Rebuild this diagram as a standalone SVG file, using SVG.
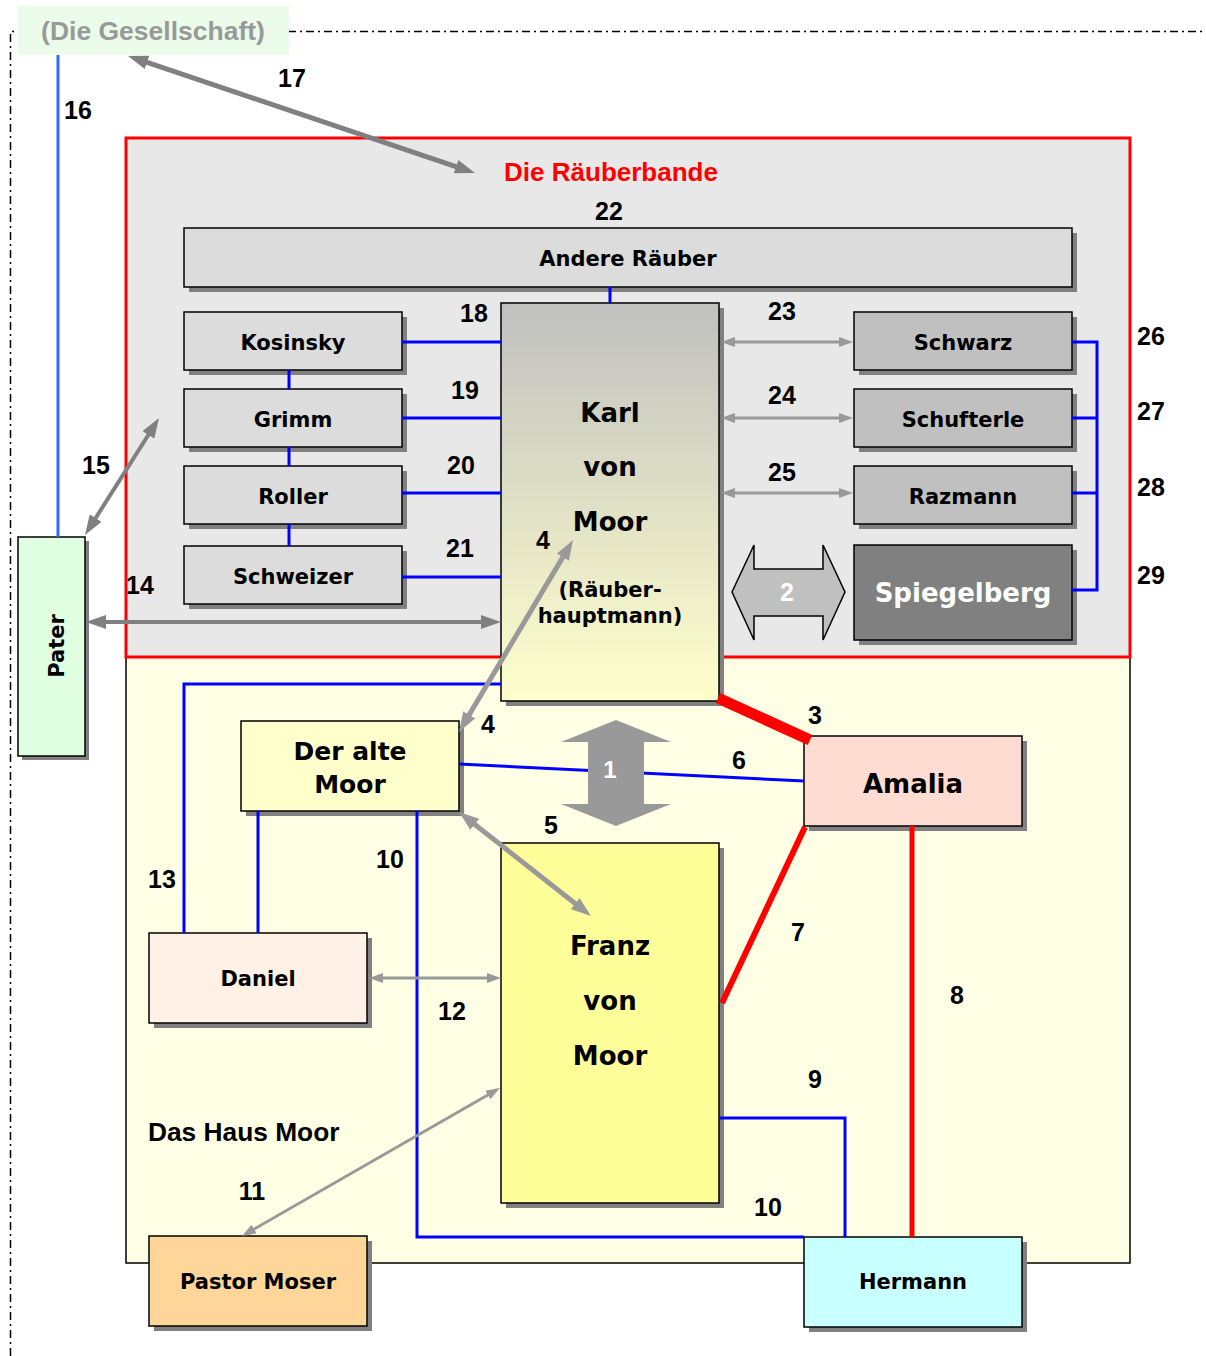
<svg xmlns="http://www.w3.org/2000/svg" width="1206" height="1356" viewBox="0 0 1206 1356">
<style>
.num{font-family:"Liberation Sans",Arial,sans-serif;font-weight:bold;font-size:25px;fill:#000;text-anchor:middle}
.lbl{font-family:"DejaVu Sans",Verdana,sans-serif;font-weight:bold;font-size:21px;fill:#000;text-anchor:middle}
.big{font-size:26px}
.box{stroke:#000;stroke-width:1.5}
.sh{fill:#808080}
.blue{fill:none;stroke:#0000FF;stroke-width:3}
.red{fill:none;stroke:#FF0000}
.ga{fill:none;stroke:#808080;stroke-width:5}
.gb{fill:none;stroke:#999;stroke-width:5}
.gt{fill:none;stroke:#999;stroke-width:3}
</style>
<defs>
<linearGradient id="karlGrad" x1="0" y1="0" x2="0" y2="1">
<stop offset="0" stop-color="#C0C0C0"/>
<stop offset="1" stop-color="#FFFFCC"/>
</linearGradient>
<marker id="ahDark" viewBox="0 0 20 14" refX="10" refY="7" markerWidth="20" markerHeight="14" markerUnits="userSpaceOnUse" orient="auto-start-reverse"><path d="M0,0 L20,7 L0,14 z" fill="#808080"/></marker>
<marker id="ahMid" viewBox="0 0 20 14" refX="10" refY="7" markerWidth="20" markerHeight="14" markerUnits="userSpaceOnUse" orient="auto-start-reverse"><path d="M0,0 L20,7 L0,14 z" fill="#999"/></marker>
<marker id="ahThin" viewBox="0 0 14 10" refX="7" refY="5" markerWidth="14" markerHeight="10" markerUnits="userSpaceOnUse" orient="auto-start-reverse"><path d="M0,0 L14,5 L0,10 z" fill="#999"/></marker>
</defs>
<rect width="1206" height="1356" fill="#FFFFFF"/>

<g id="gesellschaft-border">
<path d="M10.5,1356 V31.5 H1206" fill="none" stroke="#000" stroke-width="1.5" stroke-dasharray="8,4,2,4"/>
</g>
<g id="gesellschaft">
<rect x="18" y="6" width="271" height="49" fill="#EBFCEB"/>
<text x="153" y="40" style="font-family:'Liberation Sans',Arial,sans-serif;font-weight:bold;font-size:26.5px;fill:#999;text-anchor:middle">(Die Gesellschaft)</text>
</g>

<g id="haus-moor">
<rect x="126" y="657" width="1004" height="606" fill="#FFFFE6" stroke="#000" stroke-width="1.5"/>
<text x="148" y="1141" style="font-family:'Liberation Sans',Arial,sans-serif;font-weight:bold;font-size:26.3px;fill:#000">Das Haus Moor</text>
</g>

<g id="raeuberbande">
<rect x="126" y="138" width="1004" height="519" fill="#E8E8E8" stroke="#FF0000" stroke-width="3"/>
<text x="611" y="181" style="font-family:'Liberation Sans',Arial,sans-serif;font-weight:bold;font-size:26px;fill:#FF0000;text-anchor:middle">Die Räuberbande</text>
</g>

<g id="andere-raeuber"><rect class="sh" x="189" y="233" width="888" height="59"/><rect class="box" x="184" y="228" width="888" height="59" fill="#DCDCDC"/><text class="lbl" x="628" y="266">Andere Räuber</text></g>
<g id="kosinsky"><rect class="sh" x="189" y="317" width="218" height="58"/><rect class="box" x="184" y="312" width="218" height="58" fill="#DCDCDC"/><text class="lbl" x="293" y="350">Kosinsky</text></g>
<g id="grimm"><rect class="sh" x="189" y="394" width="218" height="58"/><rect class="box" x="184" y="389" width="218" height="58" fill="#DCDCDC"/><text class="lbl" x="293" y="427">Grimm</text></g>
<g id="roller"><rect class="sh" x="189" y="471" width="218" height="58"/><rect class="box" x="184" y="466" width="218" height="58" fill="#DCDCDC"/><text class="lbl" x="293" y="504">Roller</text></g>
<g id="schweizer"><rect class="sh" x="189" y="551" width="218" height="58"/><rect class="box" x="184" y="546" width="218" height="58" fill="#DCDCDC"/><text class="lbl" x="293" y="584">Schweizer</text></g>

<g id="schwarz"><rect class="sh" x="859" y="317" width="218" height="58"/><rect class="box" x="854" y="312" width="218" height="58" fill="#C0C0C0"/><text class="lbl" x="963" y="350">Schwarz</text></g>
<g id="schufterle"><rect class="sh" x="859" y="394" width="218" height="58"/><rect class="box" x="854" y="389" width="218" height="58" fill="#C0C0C0"/><text class="lbl" x="963" y="427">Schufterle</text></g>
<g id="razmann"><rect class="sh" x="859" y="471" width="218" height="58"/><rect class="box" x="854" y="466" width="218" height="58" fill="#C0C0C0"/><text class="lbl" x="963" y="504">Razmann</text></g>
<g id="spiegelberg"><rect class="sh" x="859" y="550" width="218" height="95"/><rect class="box" x="854" y="545" width="218" height="95" fill="#808080"/><text class="lbl big" x="963" y="602" style="fill:#FFFFFF">Spiegelberg</text></g>

<g id="karl"><rect class="sh" x="506" y="308" width="218" height="398"/><rect class="box" x="501" y="303" width="218" height="398" fill="url(#karlGrad)"/>
<text class="lbl big" x="610" y="422">Karl</text>
<text class="lbl big" x="610" y="476">von</text>
<text class="lbl big" x="610" y="531">Moor</text>
<text class="lbl" x="610" y="597">(Räuber-</text>
<text class="lbl" x="610" y="623">hauptmann)</text></g>

<g id="pater"><rect class="sh" x="22" y="541" width="67" height="219"/><rect class="box" x="18" y="537" width="67" height="219" fill="#E0FFE0"/><text class="lbl" transform="translate(64,646) rotate(-90)" x="0" y="0">Pater</text></g>

<g id="der-alte-moor"><rect class="sh" x="246" y="726" width="218" height="90"/><rect class="box" x="241" y="721" width="218" height="90" fill="#FFFFCC"/><text class="lbl" x="350" y="760" style="font-size:25px">Der alte</text><text class="lbl" x="350" y="793" style="font-size:25px">Moor</text></g>
<g id="amalia"><rect class="sh" x="809" y="741" width="218" height="90"/><rect class="box" x="804" y="736" width="218" height="90" fill="#FFDCD2"/><text class="lbl big" x="913" y="793">Amalia</text></g>
<g id="daniel"><rect class="sh" x="154" y="938" width="218" height="90"/><rect class="box" x="149" y="933" width="218" height="90" fill="#FFF1E6"/><text class="lbl" x="258" y="986">Daniel</text></g>
<g id="franz"><rect class="sh" x="506" y="848" width="218" height="360"/><rect class="box" x="501" y="843" width="218" height="360" fill="#FFFF99"/>
<text class="lbl big" x="610" y="955">Franz</text>
<text class="lbl big" x="610" y="1010">von</text>
<text class="lbl big" x="610" y="1065">Moor</text></g>
<g id="pastor-moser"><rect class="sh" x="154" y="1241" width="218" height="90"/><rect class="box" x="149" y="1236" width="218" height="90" fill="#FFD699"/><text class="lbl" x="258" y="1289">Pastor Moser</text></g>
<g id="hermann"><rect class="sh" x="809" y="1242" width="218" height="90"/><rect class="box" x="804" y="1237" width="218" height="90" fill="#C8FFFF"/><text class="lbl" x="913" y="1289">Hermann</text></g>

<g id="connectors">
<path d="M58,55 V537" fill="none" stroke="#3366FF" stroke-width="3"/>
<path class="blue" d="M610,287 V303"/>
<path class="blue" d="M289,370 V389 M289,447 V466 M289,524 V546"/>
<path class="blue" d="M402,342 H501 M402,418 H501 M402,493 H501 M402,577 H501"/>
<path class="blue" d="M1072,342 H1097 V590 H1072 M1072,418 H1097 M1072,493 H1097"/>
<path class="blue" d="M501,684 H184 V933"/>
<path class="blue" d="M258,811 V933"/>
<path class="blue" d="M459,764 L804,781"/>
<path class="blue" d="M417,811 V1237 H804"/>
<path class="blue" d="M719,1118 H845 V1237"/>
<path class="red" d="M718,698 L810,740" stroke-width="11"/>
<path class="red" d="M805,827 L722,1003" stroke-width="6"/>
<path class="red" d="M912,826 V1237" stroke-width="5"/>
<path class="ga" d="M137.5,59.2 L465.5,169.8" marker-start="url(#ahDark)" marker-end="url(#ahDark)"/>
<path class="ga" d="M90.3,526.5 L153.7,426.5" style="stroke-width:4" marker-start="url(#ahDark)" marker-end="url(#ahDark)"/>
<path class="ga" d="M96,622 L491,622" style="stroke-width:4" marker-start="url(#ahDark)" marker-end="url(#ahDark)"/>
<path class="gb" d="M567.9,548.6 L464.1,723.4" marker-start="url(#ahMid)" marker-end="url(#ahMid)"/>
<path class="gb" d="M466.9,818.2 L583.1,909.8" marker-start="url(#ahMid)" marker-end="url(#ahMid)"/>
<path class="gt" d="M728,342 H846" marker-start="url(#ahThin)" marker-end="url(#ahThin)"/>
<path class="gt" d="M728,418 H846" marker-start="url(#ahThin)" marker-end="url(#ahThin)"/>
<path class="gt" d="M728,493 H846" marker-start="url(#ahThin)" marker-end="url(#ahThin)"/>
<path class="gt" d="M376,978 H494" marker-start="url(#ahThin)" marker-end="url(#ahThin)"/>
<path class="gt" d="M493.9,1091.5 L248.1,1232.5" marker-start="url(#ahThin)" marker-end="url(#ahThin)"/>
</g>

<g id="arrow-1">
<path d="M616,720 L671,742 L644,742 L644,804 L671,804 L616,826 L561,804 L588,804 L588,742 L561,742 Z" fill="#999"/>
<text x="610" y="778" style="font-family:'Liberation Sans',Arial,sans-serif;font-weight:bold;font-size:24px;fill:#FFF;text-anchor:middle">1</text>
</g>
<g id="arrow-2">
<path d="M732,592 L754,545 L754,569 L823,569 L823,545 L845,592 L823,640 L823,616 L754,616 L754,640 Z" fill="#C0C0C0" stroke="#000" stroke-width="1.5"/>
<text x="787" y="601" style="font-family:'Liberation Sans',Arial,sans-serif;font-weight:bold;font-size:25px;fill:#FFF;text-anchor:middle">2</text>
</g>

<g id="labels">
<text class="num" x="78" y="119">16</text>
<text class="num" x="292" y="87">17</text>
<text class="num" x="609" y="220">22</text>
<text class="num" x="474" y="322">18</text>
<text class="num" x="465" y="399">19</text>
<text class="num" x="461" y="474">20</text>
<text class="num" x="460" y="557">21</text>
<text class="num" x="782" y="320">23</text>
<text class="num" x="782" y="404">24</text>
<text class="num" x="782" y="481">25</text>
<text class="num" x="1151" y="345">26</text>
<text class="num" x="1151" y="420">27</text>
<text class="num" x="1151" y="496">28</text>
<text class="num" x="1151" y="584">29</text>
<text class="num" x="96" y="474">15</text>
<text class="num" x="140" y="594">14</text>
<text class="num" x="543" y="549">4</text>
<text class="num" x="488" y="733">4</text>
<text class="num" x="815" y="724">3</text>
<text class="num" x="739" y="769">6</text>
<text class="num" x="551" y="834">5</text>
<text class="num" x="798" y="941">7</text>
<text class="num" x="957" y="1004">8</text>
<text class="num" x="162" y="888">13</text>
<text class="num" x="390" y="868">10</text>
<text class="num" x="452" y="1020">12</text>
<text class="num" x="815" y="1088">9</text>
<text class="num" x="768" y="1216">10</text>
<text class="num" x="252" y="1200">11</text>
</g>
</svg>
